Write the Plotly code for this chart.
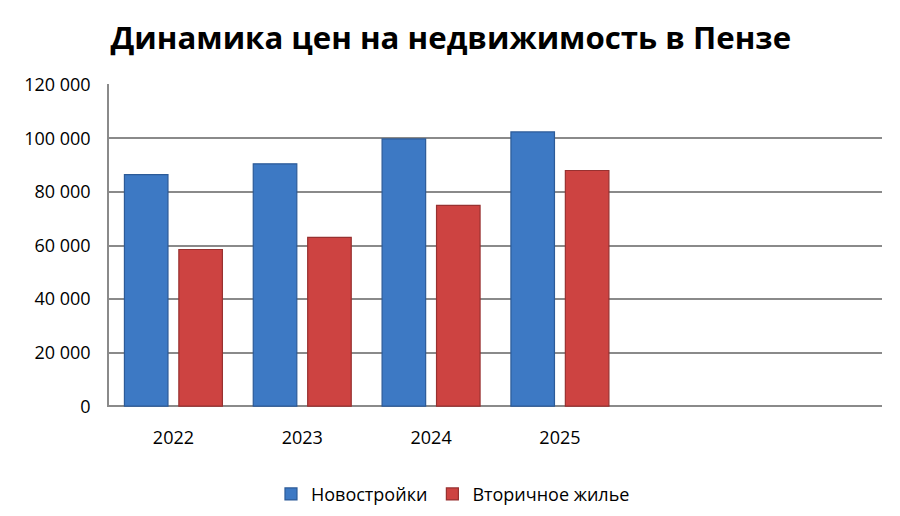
import plotly.graph_objects as go

# данные (руб. за кв. м)
years = [2022, 2023, 2024, 2025]
year_labels = ["2022", "2023", "2024", "2025"]
new_build = [86500, 90500, 99800, 102400]
secondary = [58500, 63000, 75000, 88000]
y_ticks = [0, 20000, 40000, 60000, 80000, 100000, 120000]
y_tick_labels = ["0", "20 000", "40 000", "60 000", "80 000", "100 000", "120 000"]

FONT = "Open Sans"
GRID = "#8a8a8a"

fig = go.Figure()
fig.add_trace(go.Bar(
    x=years, y=new_build, name="Новостройки",
    marker=dict(color="#3d79c4", line=dict(color="#2c5b98", width=1.2)),
))
fig.add_trace(go.Bar(
    x=years, y=secondary, name="Вторичное жилье",
    marker=dict(color="#cd4341", line=dict(color="#983130", width=1.2)),
))

# страница сдвинута на 8px (отступ body), поля подобраны с учётом этого
fig.update_layout(
    width=900, height=516,
    paper_bgcolor="white", plot_bgcolor="white",
    margin=dict(l=101, r=26, t=75.5, b=116.2),
    barmode="group", bargap=0.155, bargroupgap=0.2,
    title=dict(text="<b>Динамика цен на недвижимость в Пензе</b>",
               x=0.492, xanchor="center", y=0.942, yanchor="middle",
               font=dict(family=FONT, size=31.2, color="black")),
    font=dict(family=FONT, size=18, color="black"),
    legend=dict(orientation="h", x=0.445, xanchor="center",
                y=-0.266, yanchor="middle", font=dict(size=18), itemwidth=30),
    showlegend=True,
)
fig.update_xaxes(
    range=[2021.5, 2027.5], tickvals=years, ticktext=year_labels,
    showgrid=False, zeroline=False, showline=False,
    ticks="", ticklabelstandoff=18, tickfont=dict(size=18),
)
fig.update_yaxes(
    range=[-300, 120300], tickvals=y_ticks, ticktext=y_tick_labels,
    showgrid=True, gridcolor=GRID, gridwidth=1.5,
    zeroline=True, zerolinecolor=GRID, zerolinewidth=1.5,
    showline=True, linecolor=GRID, linewidth=1.5,
    ticks="", ticklabelstandoff=13, tickfont=dict(size=18),
)

fig.write_html("out.html", config={"displayModeBar": False})
